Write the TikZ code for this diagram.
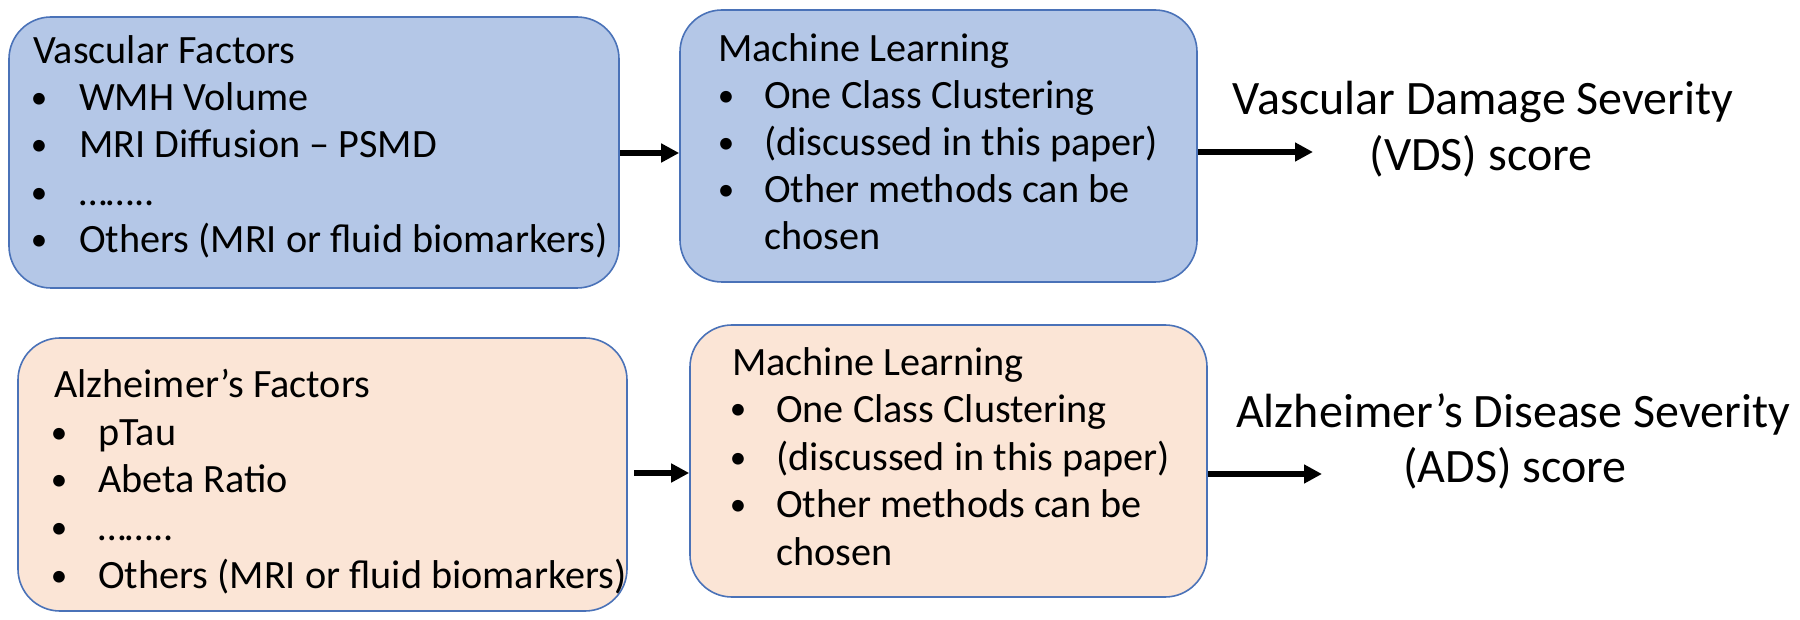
\documentclass[tikz,border=0pt]{standalone}
\usepackage{fontspec}
\setmainfont{Carlito}
\usetikzlibrary{arrows.meta,calc}
\definecolor{bluefill}{HTML}{B4C7E7}
\definecolor{peachfill}{HTML}{FBE5D6}
\definecolor{edgeblue}{HTML}{4A72B8}
\tikzset{
  x=1pt, y=-1pt,
  box/.style={draw=edgeblue, line width=1.6pt, rounded corners=42pt, inner sep=0pt},
  bluebox/.style={box, fill=bluefill},
  peachbox/.style={box, fill=peachfill},
  txt/.style={anchor=base west, inner sep=0pt, font=\fontsize{40.2}{48}\selectfont},
  bul/.style={anchor=base, inner sep=0pt, yshift=2pt, font=\fontsize{33}{40}\selectfont},
  res/.style={anchor=base, inner sep=0pt, font=\fontsize{48}{56}\selectfont},
  arr/.style={line width=6pt, -{Triangle[length=18pt,width=18pt]}}
}
\begin{document}
\begin{tikzpicture}
\useasboundingbox (0,0) rectangle (1800,620);
% boxes
\node[bluebox, minimum width=610pt, minimum height=271pt] (b1) at (314,152.5) {};
\node[bluebox, minimum width=517pt, minimum height=272pt] (m1) at (938.5,146) {};
\node[peachbox, minimum width=609pt, minimum height=273pt] (b3) at (322.5,474.5) {};
\node[peachbox, minimum width=517pt, minimum height=272pt] (m2) at (948.5,461) {};
% box 1 text
\node[txt] (b1h) at (33,64) {Vascular Factors};
\node[bul] (b1b1) at (39,111) {•};
\node[txt] (b1t1) at (79,111) {WMH Volume};
\node[bul] (b1b2) at (39,158) {•};
\node[txt] (b1t2) at (79,158) {MRI Diffusion – PSMD};
\node[bul] (b1b3) at (39,206) {•};
\node[txt] (b1t3) at (79,206) {……..};
\node[bul] (b1b4) at (39,253) {•};
\node[txt] (b1t4) at (79,253) {Others (MRI or fluid biomarkers)};
% ML box 1 text
\node[txt] (m1h) at (718,62) {Machine Learning};
\node[bul] (m1b1) at (726,109) {•};
\node[txt] (m1t1) at (764,109) {One Class Clustering};
\node[bul] (m1b2) at (726,156) {•};
\node[txt] (m1t2) at (764,156) {(discussed in this paper)};
\node[bul] (m1b3) at (726,203) {•};
\node[txt] (m1t3) at (764,203) {Other methods can be};
\node[txt] (m1t4) at (764,250) {chosen};
% box 3 text
\node[txt] (b3h) at (54,397) {Alzheimer’s Factors};
\node[bul] (b3b1) at (59,445) {•};
\node[txt] (b3t1) at (98,445) {pTau};
\node[bul] (b3b2) at (59,492) {•};
\node[txt] (b3t2) at (98,492) {Abeta Ratio};
\node[bul] (b3b3) at (59,540) {•};
\node[txt] (b3t3) at (98,540) {……..};
\node[bul] (b3b4) at (59,588) {•};
\node[txt] (b3t4) at (98,588) {Others (MRI or fluid biomarkers)};
% ML box 2 text
\node[txt] (m2h) at (732,375) {Machine Learning};
\node[bul] (m2b1) at (738,422) {•};
\node[txt] (m2t1) at (776,422) {One Class Clustering};
\node[bul] (m2b2) at (738,470) {•};
\node[txt] (m2t2) at (776,470) {(discussed in this paper)};
\node[bul] (m2b3) at (738,517) {•};
\node[txt] (m2t3) at (776,517) {Other methods can be};
\node[txt] (m2t4) at (776,565) {chosen};
% results
\node[res] (vds1) at (1483,115) {Vascular Damage Severity};
\node[res] (vds2) at (1481,171) {(VDS) score};
\node[res] (ads1) at (1513,427) {Alzheimer’s Disease Severity};
\node[res] (ads2) at (1515,482) {(ADS) score};
% arrows
\coordinate (a1) at (620,153);
\coordinate (a3) at (634,473);
\coordinate (t1) at (1313,152);
\coordinate (t2) at (1322,474);
\draw[arr] (a1) -- (a1 -| m1.west);
\draw[arr] (a3) -- (a3 -| m2.west);
\draw[arr] (t1 -| m1.east) -- (t1);
\draw[arr] (t2 -| m2.east) -- (t2);
\end{tikzpicture}
\end{document}
